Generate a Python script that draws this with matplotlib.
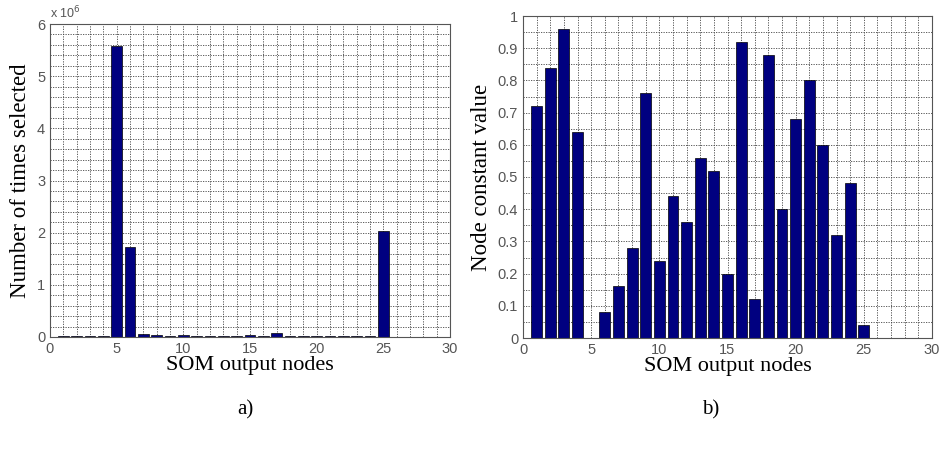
import matplotlib.pyplot as plt
import numpy as np

# SOM output nodes 1..25
nodes = np.arange(1, 26)

# number of times selected (raw counts)
times_selected = [0.01e6, 0.01e6, 0.01e6, 0.01e6, 5.58e6, 1.73e6, 0.05e6, 0.03e6,
                  0.01e6, 0.04e6, 0.01e6, 0.01e6, 0.01e6, 0.01e6, 0.04e6, 0.01e6,
                  0.08e6, 0.01e6, 0.01e6, 0.01e6, 0.01e6, 0.01e6, 0.01e6, 0.01e6,
                  2.03e6]

# node constant values
node_const = [0.72, 0.84, 0.96, 0.64, 0.0, 0.08, 0.16, 0.28, 0.76, 0.24,
              0.44, 0.36, 0.56, 0.52, 0.20, 0.92, 0.12, 0.88, 0.40, 0.68,
              0.80, 0.60, 0.32, 0.48, 0.04]

bar_color = "#000080"
serif = "Liberation Serif"
sans = "Liberation Sans"
tick_color = "#555555"

fig = plt.figure(figsize=(9.39, 4.5), dpi=100)
W, H = 939, 450
ax1 = fig.add_axes([50 / W, 1 - 337 / H, 400 / W, 313 / H])
ax2 = fig.add_axes([523 / W, 1 - 338 / H, 409 / W, 322 / H])


def style(ax):
    ax.set_axisbelow(True)
    ax.grid(True, which="both", color="#444444", linestyle=(0, (1.5, 1.5)), linewidth=0.6)
    ax.tick_params(which="both", direction="in", length=0, labelsize=10.5,
                   labelcolor=tick_color)
    for lbl in ax.get_xticklabels() + ax.get_yticklabels():
        lbl.set_fontfamily(sans)
    for s in ax.spines.values():
        s.set_color("#555555")
        s.set_linewidth(0.8)


# a) times selected
ax1.bar(nodes, times_selected, width=0.8, color=bar_color, edgecolor="black", linewidth=0.5)
ax1.set_xlim(0, 30)
ax1.set_ylim(0, 6e6)
ax1.set_xticks(np.arange(0, 31, 5))
ax1.set_xticks(np.arange(0, 31, 1), minor=True)
ax1.set_yticks(np.arange(0, 6.1e6, 1e6))
ax1.set_yticklabels([str(i) for i in range(7)])
ax1.set_yticks(np.arange(0, 6.01e6, 0.2e6), minor=True)
style(ax1)
ax1.set_xlabel("SOM output nodes", fontfamily=serif, fontsize=16, labelpad=0)
ax1.set_ylabel("Number of times selected", fontfamily=serif, fontsize=16.5, labelpad=4)
ax1.text(0.0, 1.01, r"x 10$^6$", transform=ax1.transAxes, fontfamily=sans,
         fontsize=9, color=tick_color, ha="left", va="bottom")

# b) node constant values
ax2.bar(nodes, node_const, width=0.8, color=bar_color, edgecolor="black", linewidth=0.5)
ax2.set_xlim(0, 30)
ax2.set_ylim(0, 1)
ax2.set_xticks(np.arange(0, 31, 5))
ax2.set_xticks(np.arange(0, 31, 1), minor=True)
ax2.set_yticks(np.arange(0, 1.01, 0.1))
ax2.set_yticklabels(["0"] + ["%.1f" % v for v in np.arange(0.1, 0.95, 0.1)] + ["1"])
ax2.set_yticks(np.arange(0, 1.001, 0.05), minor=True)
style(ax2)
ax2.set_xlabel("SOM output nodes", fontfamily=serif, fontsize=16, labelpad=0)
ax2.set_ylabel("Node constant value", fontfamily=serif, fontsize=16.5, labelpad=4)

fig.text(245 / W, 1 - 410 / H, "a)", fontfamily=serif, fontsize=15, ha="center", va="center")
fig.text(711 / W, 1 - 410 / H, "b)", fontfamily=serif, fontsize=15, ha="center", va="center")

fig.savefig("out.png", dpi=100)
